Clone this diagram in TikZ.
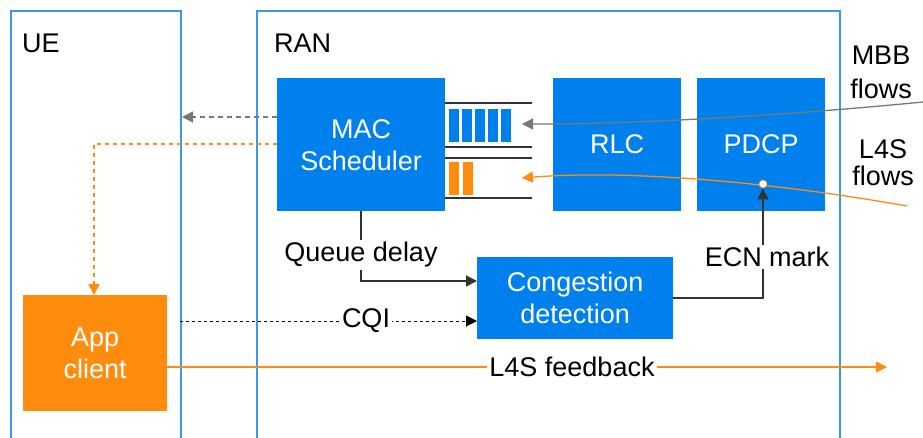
\documentclass[tikz,border=0pt]{standalone}
\usepackage{fontspec}
\setmainfont{Liberation Sans}
\usepackage{tikz}
\usetikzlibrary{arrows.meta}
\usetikzlibrary{calc}
\definecolor{ranblue}{RGB}{0,128,236}
\definecolor{framblue}{RGB}{60,152,236}
\definecolor{apporange}{RGB}{255,140,12}
\definecolor{flowgray}{RGB}{120,120,120}
\definecolor{linegray}{RGB}{50,50,50}

\begin{document}
\begin{tikzpicture}[x=1pt,y=-1pt,
  txt/.style={font=\fontsize{27}{32}\selectfont,inner sep=1pt},
  blk/.style={txt,fill=ranblue,text=white,align=center,anchor=north west,minimum height=133},
  frm/.style={draw=framblue,line width=1.6pt},
  tip/.style={-{Triangle[length=11pt,width=11pt]}},
  qline/.style={draw=linegray,line width=1.8pt},
  lbl/.style={txt,fill=white,inner sep=2pt}]
  \useasboundingbox (0,0) rectangle (923,437);

  % UE and RAN frames, open at the bottom
  \draw[frm] (11,440)--(11,11)--(181,11)--(181,440);
  \draw[frm] (257,440)--(257,11)--(840,11)--(840,440);
  \node[txt,anchor=base west] (ue) at (21,52) {UE};
  \node[txt,anchor=base west] (ran) at (273,52) {RAN};

  % RAN blocks
  \node[blk,minimum width=168] (mac) at (277,78) {MAC\\Scheduler};
  \node[blk,minimum width=128] (rlc) at (553,78) {RLC};
  \node[blk,minimum width=128] (pdcp) at (697,78) {PDCP};
  \node[blk,minimum width=196,minimum height=82] (cong) at (477,257) {Congestion\\detection};
  \node[blk,fill=apporange,minimum width=144,minimum height=116] (app) at (23,295) {App\\client};

  % queues
  \draw[qline] (445,103)--++(87,0);
  \draw[qline] (445,147)--++(87,0);
  \draw[qline] (445,158)--++(87,0);
  \draw[qline] (445,198)--++(87,0);
  \foreach \i in {0,...,4}
    \fill[ranblue] (449+13*\i,109) rectangle ++(10,33);
  \foreach \i in {0,1}
    \fill[apporange] (449+14*\i,162) rectangle ++(10,33);

  % incoming flows
  \coordinate (mbbin) at (923,102);
  \coordinate (mbbq) at (522,124);
  \coordinate (l4sin) at (907,206);
  \coordinate (l4sq) at (522,178);
  \draw[flowgray,line width=1.3pt,tip] (mbbin) .. controls (800,114) and (650,124) .. (mbbq);
  \draw[apporange,line width=1.3pt,tip] (l4sin) .. controls (760,180) and (620,170) .. (l4sq);
  \node[txt,align=center,font=\fontsize{27}{34}\selectfont] (mbb) at (881,72) {MBB\\flows};
  \node[txt,align=center,font=\fontsize{27}{27}\selectfont] (l4s) at (883,163) {L4S\\flows};

  % marking point on the L4S flow
  \node[circle,fill=white,draw=apporange,line width=0.6pt,inner sep=0pt,minimum size=8] (mark) at (763,184) {};

  % scheduler signalling towards the UE
  \coordinate (uegray) at (182,117);
  \coordinate (bendorange) at (94,144);
  \draw[flowgray,line width=1.3pt,dash pattern=on 5pt off 4pt,tip] (mac.west |- 0,117) -- (uegray);
  \draw[apporange,line width=1.6pt,dash pattern=on 4pt off 4pt,tip] (mac.west |- 0,144) -- (bendorange) -- (app.north -| bendorange);

  % queue delay and ECN marking
  \draw[linegray,line width=1.3pt,tip] (mac.south -| 361,0) |- (cong.west |- 0,281);
  \node[lbl] (qd) at (361,255) {Queue delay};
  \draw[linegray,line width=1.3pt,tip] (cong.east |- 0,298) -| (mark.south);
  \node[lbl] (ecn) at (767,257) {ECN mark};

  % CQI report
  \coordinate (cqiout) at (180,321);
  \draw[black,line width=1pt,dash pattern=on 3pt off 3pt,tip] (cqiout) -- (cong.west |- 0,321);
  \node[lbl] (cqi) at (366,321) {CQI};

  % L4S feedback
  \coordinate (fbend) at (887,367);
  \draw[apporange,line width=1.5pt,tip] (app.east |- 0,367) -- (fbend);
  \node[lbl] (fb) at (572,367) {L4S feedback};
\end{tikzpicture}
\end{document}
